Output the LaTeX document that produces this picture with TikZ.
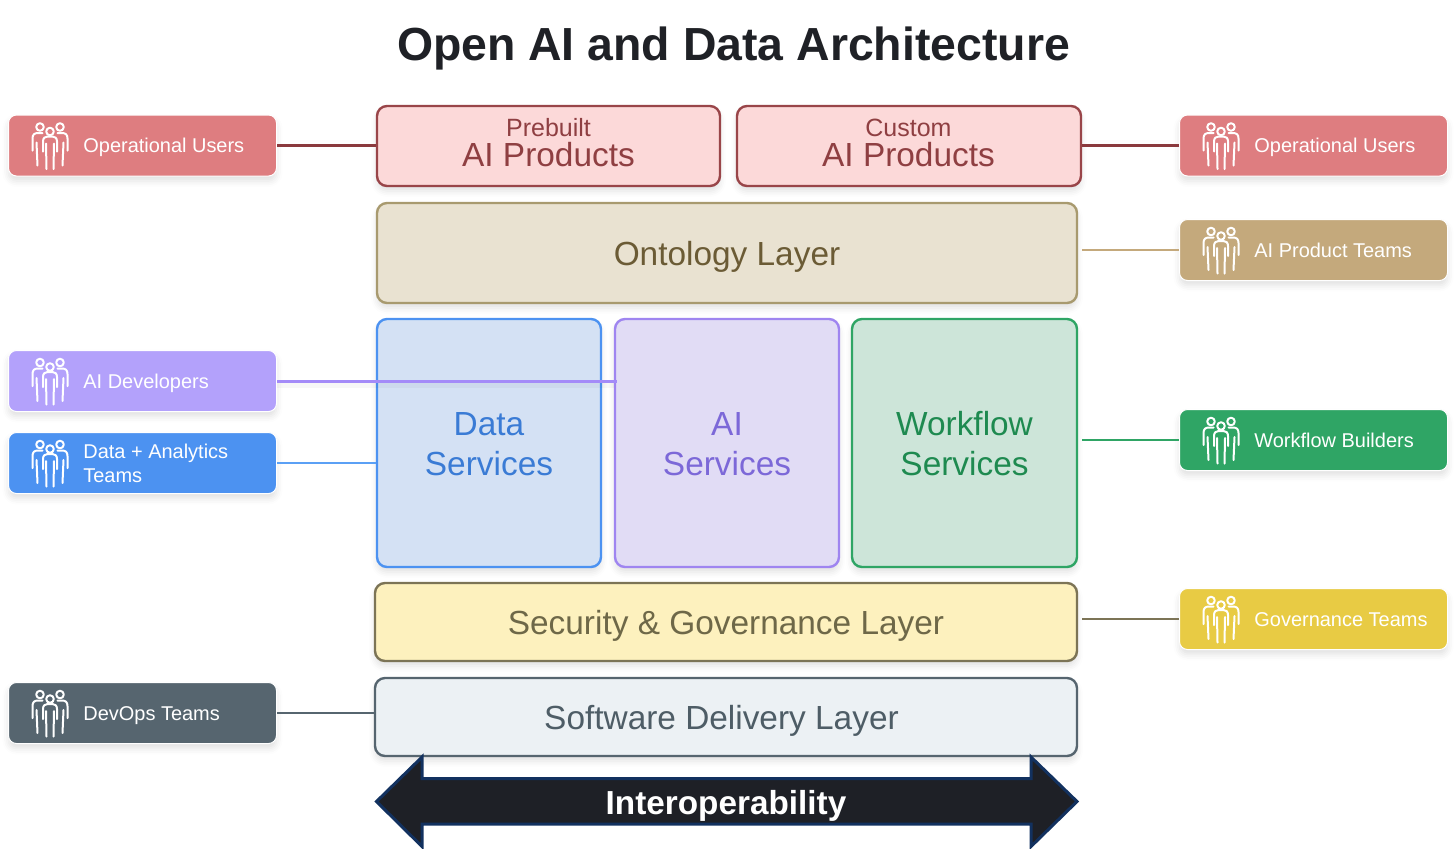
\documentclass[tikz,border=0pt]{standalone}
\usepackage{fontspec}
\setmainfont{Liberation Sans}
\usetikzlibrary{shadows.blur,calc}

\definecolor{opFill}{HTML}{DE7D80}
\definecolor{opLine}{HTML}{8B3A3E}
\definecolor{prodFill}{HTML}{FCD9D9}
\definecolor{prodEdge}{HTML}{994549}
\definecolor{prodText}{HTML}{8F3F42}
\definecolor{ontFill}{HTML}{E9E2D1}
\definecolor{ontEdge}{HTML}{A89A6F}
\definecolor{ontText}{HTML}{6B5B35}
\definecolor{aptFill}{HTML}{C4A97C}
\definecolor{devFill}{HTML}{B3A1FB}
\definecolor{devLine}{HTML}{A48BF8}
\definecolor{daFill}{HTML}{4C92F1}
\definecolor{daLine}{HTML}{5BA0F5}
\definecolor{dataFill}{HTML}{D4E1F4}
\definecolor{dataText}{HTML}{3A7BD5}
\definecolor{aiFill}{HTML}{E1DCF5}
\definecolor{aiEdge}{HTML}{9F85F0}
\definecolor{aiText}{HTML}{7C68D8}
\definecolor{wfFill}{HTML}{CDE5D9}
\definecolor{wfEdge}{HTML}{2FA565}
\definecolor{wfText}{HTML}{1E8A50}
\definecolor{secFill}{HTML}{FDF1BE}
\definecolor{secEdge}{HTML}{7C7456}
\definecolor{secText}{HTML}{6E6848}
\definecolor{govFill}{HTML}{E8CB44}
\definecolor{swFill}{HTML}{ECF1F4}
\definecolor{swEdge}{HTML}{56656F}
\definecolor{swText}{HTML}{4E5D66}
\definecolor{arrowFill}{HTML}{1E2026}
\definecolor{arrowEdge}{HTML}{12315F}
\definecolor{titleInk}{HTML}{1F2126}

\newcommand{\pxfont}[1]{\fontsize{#1}{#1}\selectfont}

\tikzset{
  softshadow/.style={blur shadow={shadow xshift=0pt,shadow yshift=-2.5pt,shadow blur radius=3pt,shadow opacity=12}},
  teambox/.style={rectangle,rounded corners=4pt,draw=white,line width=0.5pt,fill=#1,softshadow,
    minimum width=134pt,minimum height=30.5pt,inner sep=0pt},
  layerbox/.style 2 args={rectangle,rounded corners=5pt,draw=#2,fill=#1,line width=1.2pt,
    softshadow,inner sep=0pt},
  bigtext/.style={text=#1,font=\pxfont{16.7},inner sep=0pt,anchor=base},
  stacktext/.style={text=#1,font=\pxfont{16.7},inner sep=0pt,align=center},
  teamtext/.style={text=white,font=\pxfont{9.98},anchor=base west,inner sep=0pt},
  link/.style={line width=1.25pt,draw=#1},
  crew/.pic={
    \begin{scope}[white,line width=1pt,line cap=round,line join=round]
      % the two people standing behind
      \draw (-10,-19.5) circle (3.8) (10,-19.5) circle (3.8);
      \draw (-17.5,4) -- (-17.5,-8) .. controls (-17.5,-12) and (-15.5,-13.5) .. (-12,-13.5) -- (-7.5,-13.5);
      \draw (17.5,4) -- (17.5,-8) .. controls (17.5,-12) and (15.5,-13.5) .. (12,-13.5) -- (7.5,-13.5);
      \draw (-13.5,-4) -- (-12.5,19);
      \draw (13.5,-4) -- (12.5,19);
      % the person in front
      \draw (0,-15) circle (3.8);
      \draw (-7,5) -- (-7,-5) .. controls (-7,-8.5) and (-5,-10) .. (-2.5,-10) -- (2.5,-10)
        .. controls (5,-10) and (7,-8.5) .. (7,-5) -- (7,5);
      \draw (-4,-3) -- (-3.5,22.5);
      \draw (4,-3) -- (3.5,22.5);
    \end{scope}
  },
}

\begin{document}
\begin{tikzpicture}[x=0.5pt,y=-0.5pt]
  \useasboundingbox (0,0) rectangle (1456,848);

  % Title
  \node (title) at (733.5,60.5) [anchor=base,font=\bfseries\pxfont{23.2},text=titleInk,inner sep=0pt] {Open AI and Data Architecture};

  % Product row
  \node (prebuilt) [layerbox={prodFill}{prodEdge},minimum width=171.5pt,minimum height=40pt] at (548.5,146) {};
  \node (custom) [layerbox={prodFill}{prodEdge},minimum width=172pt,minimum height=40pt] at (909,146) {};
  \node (prebuiltSmall) [bigtext=prodText,font=\pxfont{12.5}] at (548.5,136.7) {Prebuilt};
  \node (prebuiltBig) [bigtext=prodText] at (548.5,166) {AI Products};
  \node (customSmall) [bigtext=prodText,font=\pxfont{12.5}] at (908.5,136.7) {Custom};
  \node (customBig) [bigtext=prodText] at (908.5,166) {AI Products};

  % Full-width and service layers
  \node (ontology) [layerbox={ontFill}{ontEdge},minimum width=350pt,minimum height=50pt] at (727,253) {};
  \node (ontologyText) [bigtext=ontText] at (727,265) {Ontology Layer};
  \node (data) [layerbox={dataFill}{daFill},minimum width=112pt,minimum height=124pt] at (489,443) {};
  \node (dataLabel) [stacktext=dataText] at ($(data)+(0,1)$) {Data\\[3.3pt]Services};
  \node (ai) [layerbox={aiFill}{aiEdge},minimum width=112pt,minimum height=124pt] at (727,443) {};
  \node (aiLabel) [stacktext=aiText] at ($(ai)+(0,1)$) {AI\\[3.3pt]Services};
  \node (workflow) [layerbox={wfFill}{wfEdge},minimum width=112.5pt,minimum height=124pt] at (964.5,443) {};
  \node (workflowLabel) [stacktext=wfText] at ($(workflow)+(0,1)$) {Workflow\\[3.3pt]Services};
  \node (security) [layerbox={secFill}{secEdge},minimum width=351pt,minimum height=39pt] at (726,622) {};
  \node (securityText) [bigtext=secText] at (726,634) {Security \& Governance Layer};
  \node (software) [layerbox={swFill}{swEdge},minimum width=351pt,minimum height=39pt] at (726,717) {};
  \node (softwareText) [bigtext=swText] at (721.5,729) {Software Delivery Layer};

  % Team badges
  \node (opL) [teambox=opFill] at (142.5,145.5) {};
  \node (opR) [teambox=opFill] at (1313.5,145.5) {};
  \node (apt) [teambox=aptFill] at (1313.5,250) {};
  \node (dev) [teambox=devFill] at (142.5,381) {};
  \node (da) [teambox=daFill] at (142.5,463) {};
  \node (wfb) [teambox=wfEdge] at (1313.5,440) {};
  \node (gov) [teambox=govFill] at (1313.5,619) {};
  \node (ops) [teambox=swEdge] at (142.5,713) {};

  \foreach \badge in {opL,opR,apt,dev,da,wfb,gov,ops}
    \pic at ($(\badge.west)+(42,1)$) {crew};

  \node (opLt) [teamtext] at ($(opL.west)+(75,7.2)$) {Operational Users};
  \node (opRt) [teamtext] at ($(opR.west)+(75,7.2)$) {Operational Users};
  \node (aptt) [teamtext] at ($(apt.west)+(75,7.2)$) {AI Product Teams};
  \node (devt) [teamtext] at ($(dev.west)+(75,7.2)$) {AI Developers};
  \node (dat) [teamtext] at ($(da.west)+(75,-4.8)$) {Data + Analytics};
  \node (dat2) [teamtext] at ($(da.west)+(75,19.2)$) {Teams};
  \node (wfbt) [teamtext] at ($(wfb.west)+(75,7.2)$) {Workflow Builders};
  \node (govt) [teamtext] at ($(gov.west)+(75,7.2)$) {Governance Teams};
  \node (opst) [teamtext] at ($(ops.west)+(75,7.2)$) {DevOps Teams};

  % Connectors from badges to layers
  \draw[link=opLine] (opL.east) -- (opL.east -| prebuilt.west);
  \draw[link=opLine] (opR.west) -- (opR.west -| custom.east);
  \draw[link=aptFill] (apt.west) -- ($(apt.west -| ontology.east)+(4,0)$);
  \draw[link=wfEdge] (wfb.west) -- ($(wfb.west -| workflow.east)+(4,0)$);
  \draw[link=secEdge] (gov.west) -- ($(gov.west -| security.east)+(4,0)$);
  \draw[link=daLine] (da.east) -- (da.east -| data.west);
  \draw[link=swEdge] (ops.east) -- (ops.east -| software.west);
  \draw[line width=2.5pt,black,opacity=0.03] ($(dev.east)+(0,4)$) -- ($(dev.east -| ai.west)+(0,4)$);
  \draw[link=devLine,line width=1.5pt] (dev.east) -- ($(dev.east -| ai.west)+(3,0)$);

  % Interoperability arrow
  \draw[fill=arrowFill,draw=arrowEdge,line width=1.5pt,line join=miter]
    (376.5,801.5) -- (422,757) -- (422,778.5) -- (1031,778.5) -- (1031,757) -- (1077,801.5)
    -- (1031,846.5) -- (1031,824) -- (422,824) -- (422,846.5) -- cycle;
  \node (interop) [bigtext=white,font=\bfseries\pxfont{16.65}] at (726,814) {Interoperability};
\end{tikzpicture}
\end{document}
